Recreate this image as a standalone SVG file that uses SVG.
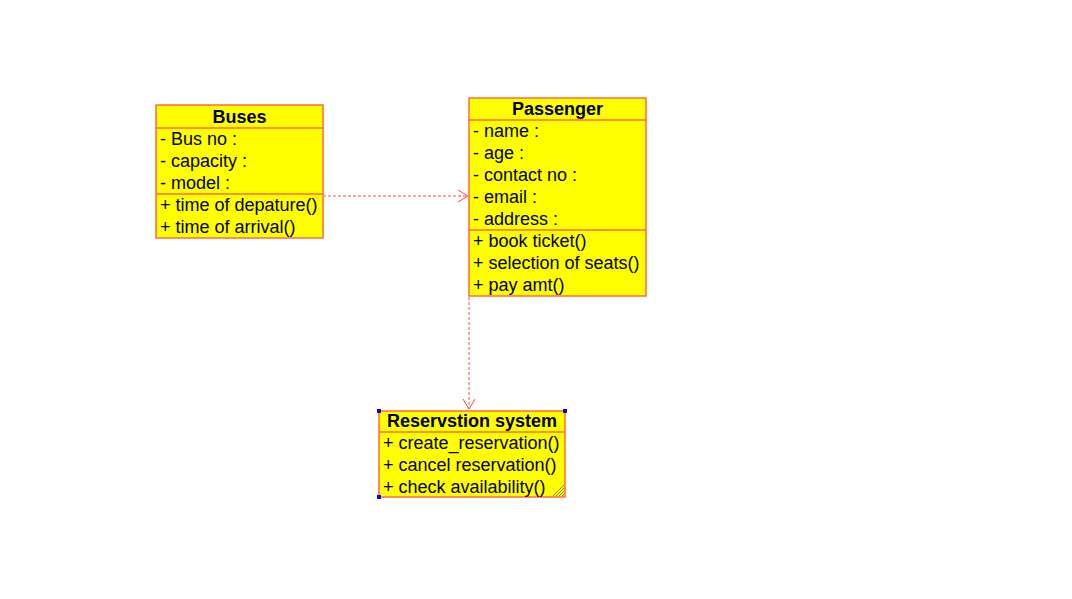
<svg xmlns="http://www.w3.org/2000/svg" width="1072" height="599" viewBox="0 0 1072 599">
<style>
.box{fill:#ffff00;stroke:#ff6a40;stroke-width:1.5}
.sep{stroke:#ff6a40;stroke-width:1.5}
text{font-family:"Liberation Sans",Arial,sans-serif;font-size:18px;fill:#000}
.title{font-weight:bold;text-anchor:middle}
.conn{fill:none;stroke:#ff4848;stroke-width:1;stroke-dasharray:3,2}
.head{fill:none;stroke:#ff4848;stroke-width:1}
</style>
<rect width="1072" height="599" fill="#fff"/>
<g id="connectors">
<line class="conn" x1="323" y1="196" x2="468" y2="196"/>
<polyline class="head" points="458,190 468,196 458,202"/>
<line class="conn" x1="469" y1="297" x2="469" y2="409"/>
<polyline class="head" points="463,399 469,409 475,399"/>
</g>
<g id="buses">
<rect class="box" x="156" y="105" width="167" height="133"/>
<line class="sep" x1="156" y1="128" x2="323" y2="128"/>
<line class="sep" x1="156" y1="194" x2="323" y2="194"/>
<text class="title" x="239.5" y="123">Buses</text>
<text x="160" y="145">- Bus no :</text>
<text x="160" y="167">- capacity :</text>
<text x="160" y="189">- model :</text>
<text x="160" y="211">+ time of depature()</text>
<text x="160" y="233">+ time of arrival()</text>
</g>
<g id="passenger">
<rect class="box" x="469" y="98" width="177" height="198"/>
<line class="sep" x1="469" y1="120" x2="646" y2="120"/>
<line class="sep" x1="469" y1="230" x2="646" y2="230"/>
<text class="title" x="557.5" y="115">Passenger</text>
<text x="473" y="137">- name :</text>
<text x="473" y="159">- age :</text>
<text x="473" y="181">- contact no :</text>
<text x="473" y="203">- email :</text>
<text x="473" y="225">- address :</text>
<text x="473" y="247">+ book ticket()</text>
<text x="473" y="269">+ selection of seats()</text>
<text x="473" y="291">+ pay amt()</text>
</g>
<g id="reservation">
<rect class="box" x="379" y="411" width="186" height="86"/>
<line class="sep" x1="379" y1="432" x2="565" y2="432"/>
<text class="title" x="472" y="427">Reservstion system</text>
<text x="383" y="449">+ create_reservation()</text>
<text x="383" y="471">+ cancel reservation()</text>
<text x="383" y="493">+ check availability()</text>
<g stroke="#8a7a00" stroke-width="1">
<line x1="553" y1="496" x2="564" y2="485"/>
<line x1="556" y1="496" x2="564" y2="488"/>
<line x1="559" y1="496" x2="564" y2="491"/>
<line x1="562" y1="496" x2="564" y2="494"/>
</g>
<g fill="#0000ff">
<rect x="377" y="409" width="4" height="4"/>
<rect x="563" y="409" width="4" height="4"/>
<rect x="377" y="495" width="4" height="4"/>
</g>
</g>
</svg>
